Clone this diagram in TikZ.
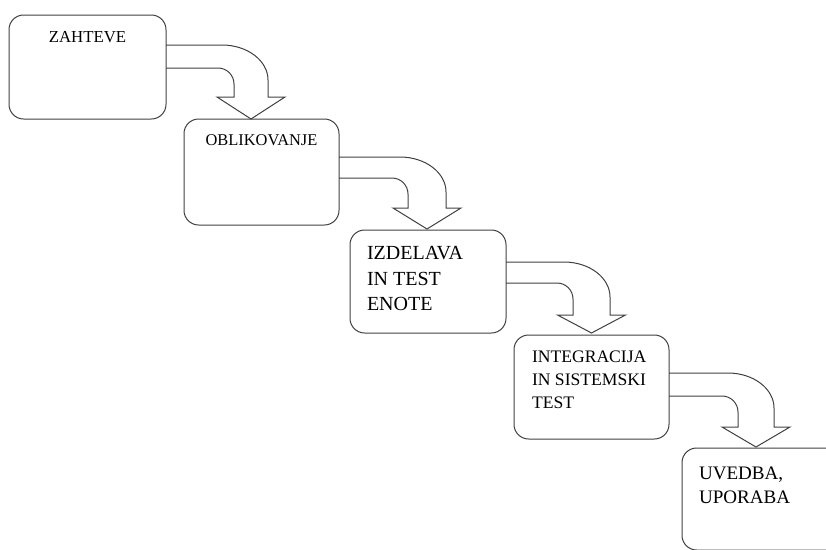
\documentclass[tikz,border=0pt]{standalone}
\usepackage{fontspec}
\setmainfont{Liberation Serif}
\begin{document}
% one unit = one pixel of an 826 x 550 canvas, y growing downwards
\begin{tikzpicture}[x=0.75pt,y=-0.75pt,
  stage/.style={draw=black!75, line width=0.75pt, rounded corners=11pt,
    rectangle, inner sep=0pt, outer sep=0pt},
  label/.style={inner sep=0pt, outer sep=0pt, text=black},
  blockarrow/.style={draw=black!75, line width=0.75pt, line join=miter}]
\useasboundingbox (0,0) rectangle (826,550);
\clip (0,0) rectangle (826,550);

% stage boxes
\node[stage, minimum width={157*0.75pt}, minimum height={104*0.75pt}] (b1) at (87.5,67) {};
\node[stage, minimum width={155*0.75pt}, minimum height={106*0.75pt}] (b2) at (261.5,172) {};
\node[stage, minimum width={156*0.75pt}, minimum height={103*0.75pt}] (b3) at (428,281.5) {};
\node[stage, minimum width={155*0.75pt}, minimum height={104*0.75pt}] (b4) at (591.5,387) {};
\node[stage, minimum width={178*0.75pt}, minimum height={102*0.75pt}] (b5) at (771,499) {};

% labels
\node[label, font=\fontsize{12.6pt}{15pt}\selectfont] (t1) at (87.5,37) {ZAHTEVE};
\node[label, font=\fontsize{12.3pt}{15pt}\selectfont] (t2) at (261.5,140) {OBLIKOVANJE};
\node[label, anchor=north west, align=left, font=\fontsize{15pt}{19.2pt}\selectfont]
  (t3) at (367,246.5) {IZDELAVA\\IN TEST\\ENOTE};
\node[label, anchor=north west, align=left, font=\fontsize{13.2pt}{17.3pt}\selectfont]
  (t4) at (532,351) {INTEGRACIJA\\IN SISTEMSKI\\TEST};
\node[label, anchor=north west, align=left, font=\fontsize{14.3pt}{18pt}\selectfont]
  (t5) at (699,466.5) {UVEDBA,\\UPORABA};

% bent block arrow leaving the right side of a box:
% #1 start x, #2 upper edge y, #3 lower edge y, #4 inner shaft x,
% #5 outer shaft x, #6 head base y, #7 tip y
\newcommand{\bentarrow}[7]{%
  \pgfmathsetmacro{\cx}{(#4+#5)/2}%
  \draw[blockarrow]
    (#1,#2) -- (#5-46,#2)
      .. controls (#5-20.6,#2) and (#5,#2+15.7) .. (#5,#2+35)
      -- (#5,#6) -- (\cx+34,#6) -- (\cx,#7) -- (\cx-34,#6) -- (#4,#6)
      -- (#4,#3+16)
      .. controls (#4,#3+7.2) and (#4-7.2,#3) .. (#4-16,#3)
      -- (#1,#3);}

\bentarrow{166}{45}{68}{234}{268}{97}{119}
\bentarrow{339}{157}{178}{408}{446}{208}{229}
\bentarrow{506}{262}{283}{573}{610}{315}{333}
\bentarrow{669}{373}{396}{738}{774}{427}{447}
\end{tikzpicture}
\end{document}
